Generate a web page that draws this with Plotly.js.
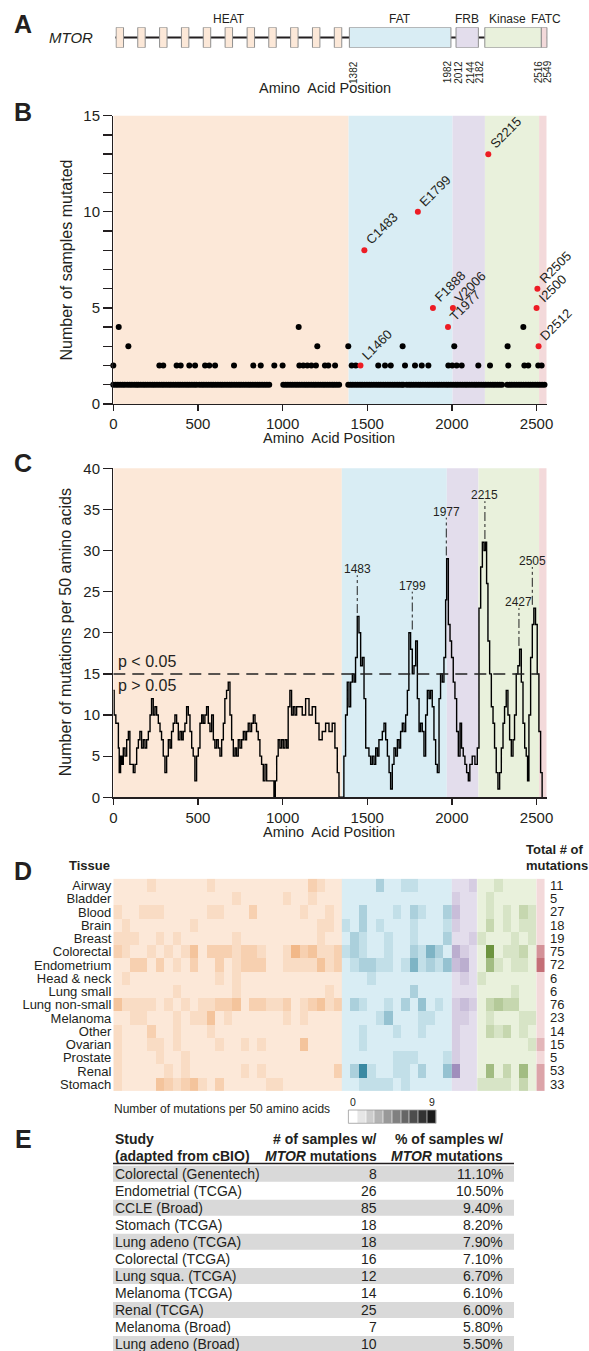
<!DOCTYPE html>
<html><head><meta charset="utf-8">
<script src="https://cdn.plot.ly/plotly-3.0.1.min.js"></script>
<style>html,body{margin:0;padding:0;background:#fff}</style>
</head><body><div id="chart" style="width:589px;height:1351px"></div>
<script>
// ---------- Panel A: MTOR domain structure ----------
const heatRepeatStart = [4,132,261,390,519,648,778,906,1035,1164,1293];
const heatRepeatLen = 44;
const domainNames = ['FAT','FRB','Kinase','FATC'];
const domainStart = [1382,2012,2182,2516];
const domainEnd   = [1982,2144,2516,2549];
const boundaryTicks = [1382,1982,2012,2144,2182,2516,2549];
const proteinLength = 2549;

// ---------- Panel B: samples mutated per position ----------
const countOnePos = [0,14,27,41,55,68,83,97,110,124,137,148,
 162,176,189,203,217,231,244,258,272,286,299,313,327,340,354,368,382,395,409,423,437,450,464,478,491,
 508,522,535,549,563,577,590,604,618,632,645,659,673,687,700,714,728,742,755,769,783,797,810,824,838,852,865,879,893,907,921,
 1004,1018,1031,1045,1059,1073,1086,1100,1114,1128,1141,1155,1169,1183,1196,1210,1224,1238,1251,1265,1279,1293,1306,1320,1334,
 1388,1402,1415,1429,1443,1457,1470,1484,1498,1512,1525,1539,1553,1567,1580,1594,1608,1622,1635,1649,1663,1677,1690,1704,1713,
 1733,1747,1760,1774,1788,1802,1815,1829,1843,1857,1870,1884,1898,1912,1925,1939,1953,1967,1980,1994,2008,2022,2035,2049,2063,2077,2090,2104,2118,2132,2145,2159,2173,2187,2200,2214,2228,2242,2255,2269,2283,2296,
 2327,2341,2354,2368,2382,2396,2409,2423,2437,2451,2464,2478,2492,2506,2519,2533,2547];
const countTwoPos = [0,272,295,374,398,449,483,542,567,601,713,827,871,951,1000,1099,1122,1146,1170,1197,1250,1270,1310,1408,1432,1565,1605,1639,1723,1782,1822,1861,1979,2002,2028,2058,2156,2225,2333,2428,2451,2510,2530];
const countThreePos = [89,1205,1388,1709,2014,2329];
const countFourPos = [32,1095,2422];
const hotspotLabel = ['L1460','C1483','E1799','F1888','T1977','V2006','S2215','I2500','R2505','D2512'];
const hotspotPos   = [1460,1483,1799,1888,1977,2006,2215,2500,2505,2512];
const hotspotCount = [2,8,10,5,4,5,13,5,6,3];
const regionEdgesB = [0,1390,2004,2195,2515,2560];

// ---------- Panel C: mutations per 50 amino acid window ----------
const windowPos = [0,5,15,30,35,43,51,59,69,79,89,98,108,118,128,138,148,157,167,177,
 187,197,207,217,226,236,246,256,266,276,285,295,305,315,325,335,344,354,364,374,
 384,394,404,413,423,433,443,453,463,472,482,492,502,512,522,531,541,551,561,571,
 581,591,600,610,620,630,640,650,659,669,679,689,699,709,719,728,738,748,758,768,
 778,787,797,807,817,827,837,846,856,866,876,886,896,906,925,941,949,957,965,974,
 984,994,1004,1014,1024,1033,1043,1053,1063,1073,1083,1097,1116,1136,1156,1175,1195,1215,1234,1254,
 1274,1293,1309,1323,1333,1353,1362,1372,1382,1392,1402,1412,1422,1431,1441,1451,1461,1471,1481,1491,
 1510,1520,1530,1540,1550,1560,1569,1589,1599,1609,1619,1629,1638,1648,1658,1668,1678,1688,1697,1707,
 1717,1727,1737,1746,1756,1766,1776,1786,1796,1806,1815,1825,1835,1845,1855,1865,1874,1884,1894,1904,
 1914,1924,1933,1943,1953,1963,1969,1979,1989,1998,2008,2018,2028,2038,2048,2057,2067,2077,2087,2097,
 2106,2120,2136,2150,2160,2170,2180,2190,2199,2205,2213,2223,2233,2243,2252,2262,2272,2282,2292,2302,
 2311,2321,2331,2341,2351,2361,2370,2380,2390,2400,2410,2420,2430,2439,2447,2455,2465,2475,2484,2494,
 2504,2514,2524,2533];
const windowCount = [13,10,9,6,3,5,4,6,5,7,8,4,4,3,4,6,7,8,6,7,
 6,7,8,10,12,10,11,10,9,8,7,5,3,5,7,6,8,9,10,9,
 7,8,7,8,9,11,10,8,6,5,2,5,6,9,10,9,10,11,9,8,
 10,7,6,7,6,5,7,9,12,13,14,10,7,5,6,5,7,6,7,8,
 7,8,9,8,9,10,9,8,7,5,4,2,4,2,2,2,0,2,5,7,
 6,7,6,7,6,11,13,10,11,10,11,11,10,12,10,11,9,7,8,9,
 8,9,6,3,0,0,5,10,14,11,14,15,14,17,22,20,16,17,12,6,
 5,4,5,4,6,5,7,8,9,7,5,3,1,4,6,5,7,6,8,9,
 8,10,13,20,18,15,16,19,12,8,9,8,5,10,13,12,13,11,7,4,
 3,12,15,14,17,24,29,21,19,17,14,12,8,5,9,6,5,4,3,2,
 4,5,4,6,23,28,31,30,31,26,19,15,11,9,6,3,1,3,6,9,
 11,13,10,7,5,7,10,15,16,18,14,9,6,5,2,10,17,21,23,21,
 15,8,3,0];
const regionEdgesC = [0,1350,1970,2157,2515,2560];
const significanceThreshold = 15;
const thresholdEnd = 2510;
const peakLabel = ['1483','1799','1977','2215','2427','2505'];
const peakLineX = [1441,1766,1967,2195,2396,2475];
const peakValue = [22,20,29,31,18,23];

// ---------- Panel D: mutations per 50 aa by tissue ----------
const tissues = ['Airway','Bladder','Blood','Brain','Breast','Colorectal','Endometrium','Head & neck','Lung small','Lung non-small','Melanoma','Other','Ovarian','Prostate','Renal','Stomach'];
const tissueTotals = [11,5,27,18,19,75,72,6,6,76,23,14,15,5,53,33];
const binWidth = 50;
const rowAirway      = [0,0,0,0,1,0,0,0,0,0, 0,1,0,0,0,0,0,0,0,0, 0,0,0,2,1,0,0,0,0,0, 0,2,0,0,1,1,0,0,0,0, 0,0,1,0,0,1,0,0,0,0, 0];
const rowBladder     = [0,0,0,0,0,0,0,0,0,0, 0,0,0,0,1,0,0,0,0,0, 1,0,0,1,0,0,0,0,0,0, 0,0,0,0,0,0,0,0,0,0, 1,0,0,0,1,0,0,0,0,0, 0];
const rowBlood       = [1,0,0,1,1,1,0,0,0,0, 0,1,1,0,0,0,2,0,0,0, 0,0,1,0,0,1,0,0,0,2, 0,0,0,1,0,2,1,0,0,2, 2,0,0,0,1,0,1,0,2,1, 0];
const rowBrain       = [0,1,0,0,0,0,0,0,0,1, 0,0,0,0,0,0,0,0,0,0, 0,0,0,0,1,1,0,1,0,2, 0,1,0,0,0,1,0,0,0,1, 1,0,0,0,2,0,1,0,1,1, 0];
const rowBreast      = [1,1,1,0,0,1,0,1,0,0, 0,0,0,0,1,0,0,0,0,0, 0,0,0,0,1,0,0,0,2,1, 0,0,1,0,0,1,0,0,0,2, 0,0,1,1,0,0,0,1,0,1, 0];
const rowColorectal  = [2,1,0,0,1,0,1,0,1,3, 0,2,2,2,1,2,2,1,0,0, 1,4,2,3,1,1,2,1,2,1, 0,0,1,0,0,2,1,4,2,0, 3,1,0,0,7,0,1,1,2,0, 4];
const rowEndometrium = [0,0,2,2,0,2,0,1,0,2, 0,0,2,0,1,2,2,2,0,0, 1,1,1,1,3,1,2,0,1,2, 2,1,1,0,1,4,1,2,1,3, 2,3,0,0,4,1,0,1,1,0, 6];
const rowHeadNeck    = [0,1,0,0,0,0,0,0,0,0, 0,0,1,0,1,0,0,0,0,0, 0,0,0,0,0,0,0,0,0,0, 1,0,0,0,0,0,0,0,0,0, 0,1,0,1,0,0,0,0,0,0, 0];
const rowLungSmall   = [0,0,0,0,0,0,0,1,0,0, 0,0,0,0,1,0,0,0,0,0, 0,0,0,0,0,1,0,0,0,0, 0,0,0,0,0,2,0,0,0,0, 0,0,0,0,0,0,0,1,0,0, 0];
const rowLungNonSmall= [3,1,1,1,1,0,1,0,1,0, 1,1,2,2,3,0,2,2,1,1, 2,0,1,2,3,1,2,0,2,1, 0,0,1,0,2,0,3,0,1,0, 1,2,1,0,2,3,2,2,0,0, 0];
const rowMelanoma    = [0,0,1,1,0,0,0,1,0,1, 1,3,0,1,0,0,0,0,0,0, 1,0,1,0,0,0,0,0,0,0, 0,1,3,0,0,0,1,1,0,0, 1,1,0,0,1,0,0,0,1,1, 0];
const rowOther       = [1,0,0,0,2,0,0,1,0,0, 0,1,0,0,0,0,0,0,0,0, 0,0,0,0,0,0,0,0,0,1, 0,0,0,1,0,0,1,0,0,0, 1,0,0,0,2,1,2,0,1,0, 0];
const rowOvarian     = [1,0,0,0,1,1,0,1,0,0, 0,0,1,0,0,1,0,1,0,0, 0,0,3,0,0,0,0,0,0,1, 0,0,0,0,0,0,0,0,0,0, 1,0,0,0,0,0,0,0,0,1, 2];
const rowProstate    = [1,0,0,0,0,1,0,0,1,0, 0,0,0,0,0,0,0,0,0,0, 0,0,0,0,0,0,0,0,0,0, 0,0,0,1,1,1,0,0,0,1, 1,0,0,0,0,0,0,0,0,0, 0];
const rowRenal       = [1,0,0,0,0,0,1,0,1,0, 0,0,0,0,0,1,0,1,0,0, 0,0,0,0,0,0,2,0,2,7, 1,0,0,1,1,0,2,0,0,3, 5,0,0,0,4,0,2,0,4,0, 3];
const rowStomach     = [1,0,0,0,0,3,2,1,2,3, 1,0,2,0,0,0,0,0,1,1, 0,0,0,0,0,0,0,0,0,1, 1,1,1,0,1,0,0,0,0,0, 0,0,0,1,1,1,1,0,2,0, 3];
const heatRows = [rowAirway,rowBladder,rowBlood,rowBrain,rowBreast,rowColorectal,rowEndometrium,rowHeadNeck,rowLungSmall,rowLungNonSmall,rowMelanoma,rowOther,rowOvarian,rowProstate,rowRenal,rowStomach];
const heatDomainCols = [0,27,40,43,50,51];
const legendLevels = [0,1,2,3,4,5,6,7,8,9];

// ---------- Panel E: studies ----------
const studies = ['Colorectal (Genentech)','Endometrial (TCGA)','CCLE (Broad)','Stomach (TCGA)','Lung adeno (TCGA)','Colorectal (TCGA)','Lung squa. (TCGA)','Melanoma (TCGA)','Renal (TCGA)','Melanoma (Broad)','Lung adeno (Broad)'];
const studyCounts = [8,26,85,18,18,16,12,14,25,7,10];
const studyPercents = [11.1,10.5,9.4,8.2,7.9,7.1,6.7,6.1,6.0,5.8,5.5];

// ---------- styling ----------
const W = 589, H = 1351;
const px = x => x / W, py = y => 1 - y / H;
const FONT = 'Liberation Sans, Arial, Helvetica, sans-serif';
const INK = '#231f20';
const regionColors = ['#fce8d8','#d9edf4','#e3ddec','#e9f1dc','#f3d9da'];
const regionDark   = ['#e57b25','#0c6c8a','#6a4f95','#4a7a12','#ad3a46'];
const domainColors = regionColors.slice(1);

const traces = [];
const shapes = [];
const ann = [];
const A = (o) => ann.push(Object.assign({showarrow:false, xanchor:'center', yanchor:'middle', font:{family:FONT, color:INK, size:13}}, o));

// Panel letters
[['A',24],['B',112],['C',463],['D',871],['E',1139]].forEach(([t,y]) =>
  A({text:'<b>'+t+'</b>', xref:'paper', yref:'paper', x:px(23), y:py(y), font:{family:FONT,color:INK,size:25}}));

// ---- Panel A ----
shapes.push({type:'line', xref:'x', yref:'y', x0:-14, x1:proteinLength, y0:0.5, y1:0.5, line:{color:INK, width:2}});
heatRepeatStart.forEach(s => shapes.push({type:'rect', xref:'x', yref:'y', x0:s, x1:s+heatRepeatLen, y0:0, y1:1,
  fillcolor:regionColors[0], line:{color:'#8f8f8f', width:1}}));
domainStart.forEach((s,i) => shapes.push({type:'rect', xref:'x', yref:'y', x0:s, x1:domainEnd[i], y0:0, y1:1,
  fillcolor:domainColors[i], line:{color:'#8f8f8f', width:1}}));
const heatMid = (heatRepeatStart[0] + heatRepeatStart[heatRepeatStart.length-1] + heatRepeatLen) / 2;
A({text:'HEAT', xref:'x', yref:'paper', x:heatMid, y:py(19), font:{family:FONT,color:INK,size:12}});
const labelShift = [0,0,-6,2];
domainNames.forEach((n,i) => A({text:n, xref:'x', yref:'paper', x:(domainStart[i]+domainEnd[i])/2, xshift:labelShift[i], y:py(19),
  font:{family:FONT,color:INK,size:12}}));
const tickShift = [4.6,-2.8,2.7,-7.6,-4.6,-2,1.1];
boundaryTicks.forEach((b,i) => A({text:String(b), xref:'x', yref:'paper', x:b, xshift:tickShift[i], y:py(58.5), yanchor:'top',
  textangle:-90, font:{family:FONT,color:INK,size:10}}));
A({text:'<i>MTOR</i>', xref:'paper', yref:'paper', x:px(70.6), y:py(37.7), font:{family:FONT,color:INK,size:15}});
A({text:'Amino\u00a0 Acid Position', xref:'paper', yref:'paper', x:px(324.5), y:py(88.3), font:{family:FONT,color:INK,size:14.5}});

// ---- Panel B ----
for (let i=0;i<5;i++) shapes.push({type:'rect', layer:'below', xref:'x2', yref:'y2 domain', x0:regionEdgesB[i], x1:regionEdgesB[i+1], y0:0, y1:1,
  fillcolor:regionColors[i], line:{width:0}});
const blackX = [].concat(countOnePos, countTwoPos, countThreePos, countFourPos);
const blackY = [].concat(countOnePos.map(()=>1), countTwoPos.map(()=>2), countThreePos.map(()=>3), countFourPos.map(()=>4));
traces.push({type:'scatter', mode:'markers', xaxis:'x2', yaxis:'y2', x:blackX, y:blackY, cliponaxis:false,
  marker:{size:6, color:'#000'}, hoverinfo:'skip'});
traces.push({type:'scatter', mode:'markers', xaxis:'x2', yaxis:'y2', x:hotspotPos, y:hotspotCount, cliponaxis:false,
  marker:{size:6, color:'#ed1c24'}, hoverinfo:'skip'});
hotspotLabel.forEach((t,i) => A({text:t, xref:'x2', yref:'y2', x:hotspotPos[i], y:hotspotCount[i], xanchor:'left', yanchor:'bottom',
  xshift:-4, yshift:0, textangle:-45, font:{family:FONT,color:INK,size:13}}));
A({text:'Number of samples mutated', xref:'paper', yref:'paper', x:px(65.5), y:py(260), textangle:-90, font:{family:FONT,color:INK,size:16}});
A({text:'Amino\u00a0 Acid Position', xref:'paper', yref:'paper', x:px(328.5), y:py(438.3), font:{family:FONT,color:INK,size:14.5}});

// ---- Panel C ----
for (let i=0;i<5;i++) shapes.push({type:'rect', layer:'below', xref:'x3', yref:'y3 domain', x0:regionEdgesC[i], x1:regionEdgesC[i+1], y0:0, y1:1,
  fillcolor:regionColors[i], line:{width:0}});
traces.push({type:'scatter', mode:'lines', xaxis:'x3', yaxis:'y3', x:windowPos, y:windowCount,
  line:{shape:'hv', color:'#000', width:1.4}, hoverinfo:'skip'});
shapes.push({type:'line', xref:'x3', yref:'y3', x0:0, x1:thresholdEnd, y0:significanceThreshold, y1:significanceThreshold,
  line:{color:'#222', width:1.5, dash:'12px,7px'}});
A({text:'p &lt; 0.05', xref:'paper', yref:'y3', x:px(116), xanchor:'left', y:significanceThreshold+1.5, font:{family:FONT,color:INK,size:16}});
A({text:'p &gt; 0.05', xref:'paper', yref:'y3', x:px(116), xanchor:'left', y:significanceThreshold-1.35, font:{family:FONT,color:INK,size:16}});
peakLabel.forEach((t,i) => {
  shapes.push({type:'line', xref:'x3', yref:'y3', x0:peakLineX[i], x1:peakLineX[i], y0:peakValue[i]+0.4, y1:peakValue[i]+5,
    line:{color:'#222', width:1, dash:'dashdot'}});
  A({text:t, xref:'x3', yref:'y3', x:peakLineX[i], y:peakValue[i]+5.7, font:{family:FONT,color:INK,size:12}});
});
A({text:'Number of mutations per 50 amino acids', xref:'paper', yref:'paper', x:px(65.5), y:py(632.7), textangle:-90, font:{family:FONT,color:INK,size:16}});
A({text:'Amino\u00a0 Acid Position', xref:'paper', yref:'paper', x:px(328.5), y:py(832.3), font:{family:FONT,color:INK,size:14.5}});

// ---- Panel D ----
for (let d=0; d<5; d++) {
  const a = heatDomainCols[d], b = heatDomainCols[d+1];
  traces.push({type:'heatmap', xaxis:'x4', yaxis:'y4', z:heatRows.map(r => r.slice(a,b)), y:tissues,
    x0: binWidth/2 + a*binWidth, dx: binWidth, zmin:0, zmax:9, showscale:false, hoverinfo:'skip',
    colorscale:[[0, regionColors[d]],[1, regionDark[d]]]});
}
tissueTotals.forEach((t,i) => A({text:String(t), xref:'paper', yref:'y4', x:px(548), xanchor:'left', y:i, font:{family:FONT,color:INK,size:13}}));
A({text:'<b>Tissue</b>', xref:'paper', yref:'paper', x:px(111.5), xanchor:'right', y:py(865), font:{family:FONT,color:INK,size:13}});
A({text:'<b>Total # of</b>', xref:'paper', yref:'paper', x:px(524), xanchor:'left', y:py(849.3), font:{family:FONT,color:INK,size:13}});
A({text:'<b>mutations</b>', xref:'paper', yref:'paper', x:px(524), xanchor:'left', y:py(865), font:{family:FONT,color:INK,size:13}});
A({text:'Number of mutations per 50 amino acids', xref:'paper', yref:'paper', x:px(112), xanchor:'left', y:py(1109), font:{family:FONT,color:INK,size:12}});
traces.push({type:'heatmap', xaxis:'x5', yaxis:'y5', z:[legendLevels], x0:0, dx:1, zmin:0, zmax:9, showscale:false, hoverinfo:'skip',
  xgap:0.6, colorscale:[[0,'#ffffff'],[1,'#1a1a1a']]});
shapes.push({type:'rect', xref:'x5 domain', yref:'y5 domain', x0:0, x1:1, y0:0, y1:1, line:{color:'#9a9a9a', width:0.8}});
A({text:String(legendLevels[0]), xref:'x5', yref:'y5 domain', x:legendLevels[0], y:1, yanchor:'bottom', font:{family:FONT,color:INK,size:10.5}});
A({text:String(legendLevels[legendLevels.length-1]), xref:'x5', yref:'y5 domain', x:legendLevels[legendLevels.length-1], y:1, yanchor:'bottom', font:{family:FONT,color:INK,size:10.5}});

// ---- Panel E ----
const colL = 113, colC = 379, colR = 505, bandR = 514, rowTop = 1165.7, rowH = 17.03;
A({text:'<b>Study</b>', xref:'paper', yref:'paper', x:px(colL), xanchor:'left', y:py(1139.3), font:{family:FONT,color:INK,size:14}});
A({text:'<b>(adapted from cBIO)</b>', xref:'paper', yref:'paper', x:px(colL), xanchor:'left', y:py(1156), font:{family:FONT,color:INK,size:14}});
A({text:'<b># of samples w/</b>', xref:'paper', yref:'paper', x:px(colC), xanchor:'right', y:py(1139.3), font:{family:FONT,color:INK,size:14}});
A({text:'<b><i>MTOR</i> mutations</b>', xref:'paper', yref:'paper', x:px(colC), xanchor:'right', y:py(1156), font:{family:FONT,color:INK,size:14}});
A({text:'<b>% of samples w/</b>', xref:'paper', yref:'paper', x:px(colR), xanchor:'right', y:py(1139.3), font:{family:FONT,color:INK,size:14}});
A({text:'<b><i>MTOR</i> mutations</b>', xref:'paper', yref:'paper', x:px(colR), xanchor:'right', y:py(1156), font:{family:FONT,color:INK,size:14}});
shapes.push({type:'line', xref:'paper', yref:'paper', x0:px(colL), x1:px(bandR), y0:py(1163.6), y1:py(1163.6), line:{color:INK, width:1.5}});
studies.forEach((s,i) => {
  const top = rowTop + rowH*i;
  if (i % 2 === 0) shapes.push({type:'rect', xref:'paper', yref:'paper', layer:'below', x0:px(colL), x1:px(bandR), y0:py(top+rowH-1), y1:py(top),
    fillcolor:'#d9d9d9', line:{width:0}});
  const yc = py(top + 7.8);
  A({text:s, xref:'paper', yref:'paper', x:px(colL), xanchor:'left', y:yc, font:{family:FONT,color:INK,size:14}});
  A({text:String(studyCounts[i]), xref:'paper', yref:'paper', x:px(colC), xanchor:'right', y:yc, font:{family:FONT,color:INK,size:14}});
  A({text:studyPercents[i].toFixed(2)+'%', xref:'paper', yref:'paper', x:px(colR), xanchor:'right', y:yc, font:{family:FONT,color:INK,size:14}});
});

// ---- axes ----
const xDom = [px(113.3), px(546.7)];
const axX = (anchor) => ({anchor, domain:xDom, range:[0,2560], showgrid:false, zeroline:false, showline:true, linecolor:INK, linewidth:1.3,
  ticks:'outside', ticklen:6, tickwidth:1.3, tickcolor:INK, tick0:0, dtick:500, tickfont:{size:15, family:FONT, color:INK}, fixedrange:true});
const axY = (anchor, dom, range) => ({anchor, domain:dom, range, showgrid:false, zeroline:false, showline:true, linecolor:INK, linewidth:1.3,
  ticks:'outside', ticklen:9, tickwidth:1.3, tickcolor:INK, tick0:0, dtick:5, tickfont:{size:15, family:FONT, color:INK}, fixedrange:true});

const layout = {
  width:W, height:H, margin:{l:0,r:0,t:0,b:0}, paper_bgcolor:'#ffffff', plot_bgcolor:'rgba(0,0,0,0)', showlegend:false,
  font:{family:FONT, color:INK, size:13},
  xaxis:{domain:[px(115.4), px(548.8)], range:[0,2560], visible:false, anchor:'y'},
  yaxis:{domain:[py(47.7), py(27.3)], range:[0,1], visible:false, anchor:'x'},
  xaxis2: axX('y2'),
  yaxis2: Object.assign(axY('x2', [py(404), py(115.7)], [0,15]), {minor:{dtick:1, ticks:'outside', ticklen:9, tickwidth:1.3, tickcolor:INK, showgrid:false}}),
  xaxis3: axX('y3'),
  yaxis3: axY('x3', [py(797.3), py(468.3)], [0,40]),
  xaxis4:{anchor:'y4', domain:xDom, range:[0,2560], visible:false},
  yaxis4:{anchor:'x4', domain:[py(1093.7), py(876)], type:'category', autorange:'reversed', showgrid:false, zeroline:false, showline:false,
    ticks:'', tickmode:'array', tickvals:tissues, ticktext:tissues, tickfont:{size:13, family:FONT, color:INK}, ticklabelstandoff:1},
  xaxis5:{anchor:'y5', domain:[px(348.4), px(436.1)], range:[-0.5,9.5], visible:false},
  yaxis5:{anchor:'x5', domain:[py(1123.3), py(1110)], range:[-0.5,0.5], visible:false},
  shapes, annotations:ann
};
Plotly.newPlot('chart', traces, layout, {displayModeBar:false, staticPlot:true});
</script></body></html>
